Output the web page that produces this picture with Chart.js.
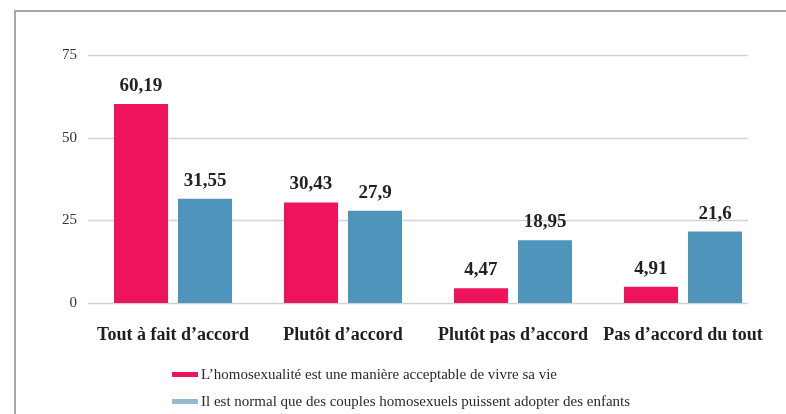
<!DOCTYPE html>
<html>
<head>
<meta charset="utf-8">
<script src="https://cdn.jsdelivr.net/npm/chart.js@4"></script>
<style>
  html, body { margin: 0; padding: 0; background: #fff; }
  #wrap { position: relative; width: 786px; height: 414px; overflow: hidden; }
  #frame { position: absolute; left: 14px; top: 10px; right: -2px; bottom: -2px;
           border-top: 2px solid #a8a8a8; border-left: 2px solid #a8a8a8; }
  canvas { position: absolute; left: 0; top: 0; }
  #legend { position: absolute; left: 172px; top: 361px; font-family: "Liberation Serif", serif;
            font-size: 15px; color: #2a2a2a; line-height: 27px; }
  #legend .sw { display: inline-block; width: 26px; height: 5px; margin-right: 3px; vertical-align: middle; position: relative; top: -1px; }
</style>
</head>
<body>
<div id="wrap">
  <div id="frame"></div>
  <canvas id="chart" width="786" height="414"></canvas>
  <div id="legend"></div>
</div>
<script>
const categories = ['Tout à fait d’accord', 'Plutôt d’accord', 'Plutôt pas d’accord', 'Pas d’accord du tout'];
const seriesNames = [
  'L’homosexualité est une manière acceptable de vivre sa vie',
  'Il est normal que des couples homosexuels puissent adopter des enfants'
];
const acceptValues = [60.19, 30.43, 4.47, 4.91];
const adoptValues = [31.55, 27.9, 18.95, 21.6];
const yTicks = [0, 25, 50, 75];

const barColors = ['#ED145B', '#4E94BB'];
const swatchColors = ['#ED145B', '#96B9D4'];

// lignes horizontales : elles s'arrêtent avant le bord droit de la zone
const gridLines = {
  id: 'gridLines',
  beforeDatasetsDraw(chart) {
    const ctx = chart.ctx, y = chart.scales.y, area = chart.chartArea;
    ctx.save();
    ctx.strokeStyle = '#d2d2d2';
    ctx.lineWidth = 1.5;
    y.ticks.forEach(t => {
      const py = Math.round(y.getPixelForValue(t.value)) + 0.5;
      ctx.beginPath();
      ctx.moveTo(area.left, py);
      ctx.lineTo(area.right - 20, py);
      ctx.stroke();
    });
    ctx.restore();
  }
};

// valeurs au-dessus des barres, avec virgule
const valueLabels = {
  id: 'valueLabels',
  afterDatasetsDraw(chart) {
    const ctx = chart.ctx;
    ctx.save();
    ctx.font = 'bold 19px "Liberation Serif", serif';
    ctx.fillStyle = '#222';
    ctx.textAlign = 'center';
    ctx.textBaseline = 'alphabetic';
    chart.data.datasets.forEach((ds, i) => {
      chart.getDatasetMeta(i).data.forEach((bar, j) => {
        ctx.fillText(String(ds.data[j]).replace('.', ','), bar.x, bar.y - 13);
      });
    });
    ctx.restore();
  }
};

const chart = new Chart(document.getElementById('chart').getContext('2d'), {
  type: 'bar',
  data: {
    labels: categories,
    datasets: [
      { label: seriesNames[0], data: acceptValues, backgroundColor: barColors[0] },
      { label: seriesNames[1], data: adoptValues, backgroundColor: barColors[1] }
    ]
  },
  options: {
    responsive: false,
    animation: false,
    barPercentage: 0.844,
    categoryPercentage: 0.753,
    layout: { padding: { top: 55, right: 18, bottom: 71, left: 0 } },
    plugins: {
      legend: { display: false },
      tooltip: { enabled: false }
    },
    scales: {
      x: {
        grid: { display: false },
        border: { display: false },
        ticks: {
          color: '#1e1e1e',
          padding: 14,
          maxRotation: 0,
          font: { family: '"Liberation Serif", serif', size: 18, weight: 'bold' }
        },
        afterFit(scale) { scale.height = 40; }
      },
      y: {
        min: 0,
        max: 75,
        afterBuildTicks(scale) { scale.ticks = yTicks.map(v => ({ value: v })); },
        grid: { display: false, drawTicks: false },
        border: { display: false },
        ticks: {
          color: '#333',
          padding: 11,
          font: { family: '"Liberation Serif", serif', size: 15 }
        },
        afterFit(scale) { scale.width = 88; }
      }
    }
  },
  plugins: [gridLines, valueLabels]
});

// légende sur deux lignes, alignée à gauche
const legend = document.getElementById('legend');
seriesNames.forEach((name, i) => {
  const row = document.createElement('div');
  const sw = document.createElement('span');
  sw.className = 'sw';
  sw.style.background = swatchColors[i];
  row.appendChild(sw);
  row.appendChild(document.createTextNode(name));
  legend.appendChild(row);
});
</script>
</body>
</html>
